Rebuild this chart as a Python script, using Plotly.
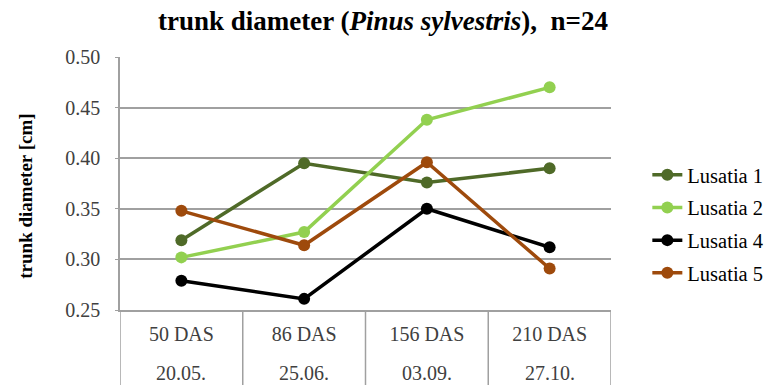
import plotly.graph_objects as go

# Sampling occasions: days after sowing and calendar date
das_labels = ["50 DAS", "86 DAS", "156 DAS", "210 DAS"]
date_labels = ["20.05.", "25.06.", "03.09.", "27.10."]

# Mean trunk diameter [cm] per provenance
lusatia_1 = [0.319, 0.395, 0.376, 0.390]
lusatia_2 = [0.302, 0.327, 0.438, 0.470]
lusatia_4 = [0.279, 0.261, 0.350, 0.312]
lusatia_5 = [0.348, 0.314, 0.396, 0.291]

series_names = ["Lusatia 1", "Lusatia 2", "Lusatia 4", "Lusatia 5"]
series_values = [lusatia_1, lusatia_2, lusatia_4, lusatia_5]
series_colors = ["#4F6A28", "#92D050", "#000000", "#9E4A0C"]

y_ticks = [0.25, 0.30, 0.35, 0.40, 0.45, 0.50]

W, H = 780, 385
L, R, T, B = 120, 160, 57, 75
plot_w = W - L - R
plot_h = H - T - B

SERIF = "Liberation Serif"
GRID = "#A0A0A0"
TEXT = "#404040"

fig = go.Figure()
for name, vals, col in zip(series_names, series_values, series_colors):
    fig.add_trace(go.Scatter(
        x=das_labels,
        y=vals,
        name=name,
        legendgroup=name,
        mode="lines+markers",
        line=dict(color=col, width=3.5),
        marker=dict(color=col, size=12),
    ))

# second row of the category table: sampling dates
for i, d in enumerate(date_labels):
    fig.add_annotation(
        x=das_labels[i], xref="x",
        y=-(373 - (H - B)) / plot_h, yref="paper",
        text=d, showarrow=False,
        font=dict(family=SERIF, size=20, color=TEXT),
        xanchor="center", yanchor="middle",
    )

# vertical separators between the category cells
n_cat = len(das_labels)
for k in range(n_cat + 1):
    fig.add_shape(
        type="line", xref="x", yref="paper",
        x0=k - 0.5, x1=k - 0.5, y0=0, y1=-(B + 10) / plot_h,
        line=dict(color=GRID, width=1.5),
    )

# y-axis title
fig.add_annotation(
    x=-(L - 23) / plot_w, xref="paper", xanchor="center",
    y=1 - (196 - T) / plot_h, yref="paper", yanchor="middle",
    text="<b>trunk diameter [cm]</b>", textangle=-90, showarrow=False,
    font=dict(family=SERIF, size=19, color="#000000"),
)

fig.update_layout(
    width=W, height=H,
    margin=dict(l=L, r=R, t=T, b=B),
    paper_bgcolor="white",
    plot_bgcolor="white",
    font=dict(family=SERIF, size=20, color=TEXT),
    title=dict(
        text="<b>trunk diameter (<i>Pinus sylvestris</i>),\u00a0 n=24</b>",
        font=dict(family=SERIF, size=27, color="#000000"),
        x=383 / W, xref="container", xanchor="center",
        y=1 - 21 / H, yref="container", yanchor="middle",
    ),
    legend=dict(
        x=(657 - L) / plot_w, xanchor="left",
        y=1 - (155 - T) / plot_h, yanchor="top",
        font=dict(family=SERIF, size=20.5, color="#000000"),
        tracegroupgap=3,
        bgcolor="rgba(0,0,0,0)",
    ),
    showlegend=True,
)

fig.update_xaxes(
    type="category",
    range=[-0.5, n_cat - 0.5],
    showline=True, linecolor=GRID, linewidth=1.5,
    showgrid=False,
    ticks="",
    ticklabelstandoff=5,
    tickfont=dict(family=SERIF, size=20, color=TEXT),
)

fig.update_yaxes(
    range=[0.25, 0.50],
    tickvals=y_ticks,
    tickformat=".2f",
    showline=True, linecolor=GRID, linewidth=1.5,
    showgrid=True, gridcolor=GRID, gridwidth=1.5,
    ticks="outside", ticklen=3, tickcolor=GRID,
    ticklabelstandoff=11,
    tickfont=dict(family=SERIF, size=20, color=TEXT),
    zeroline=False,
)

fig.write_html("out.html")
